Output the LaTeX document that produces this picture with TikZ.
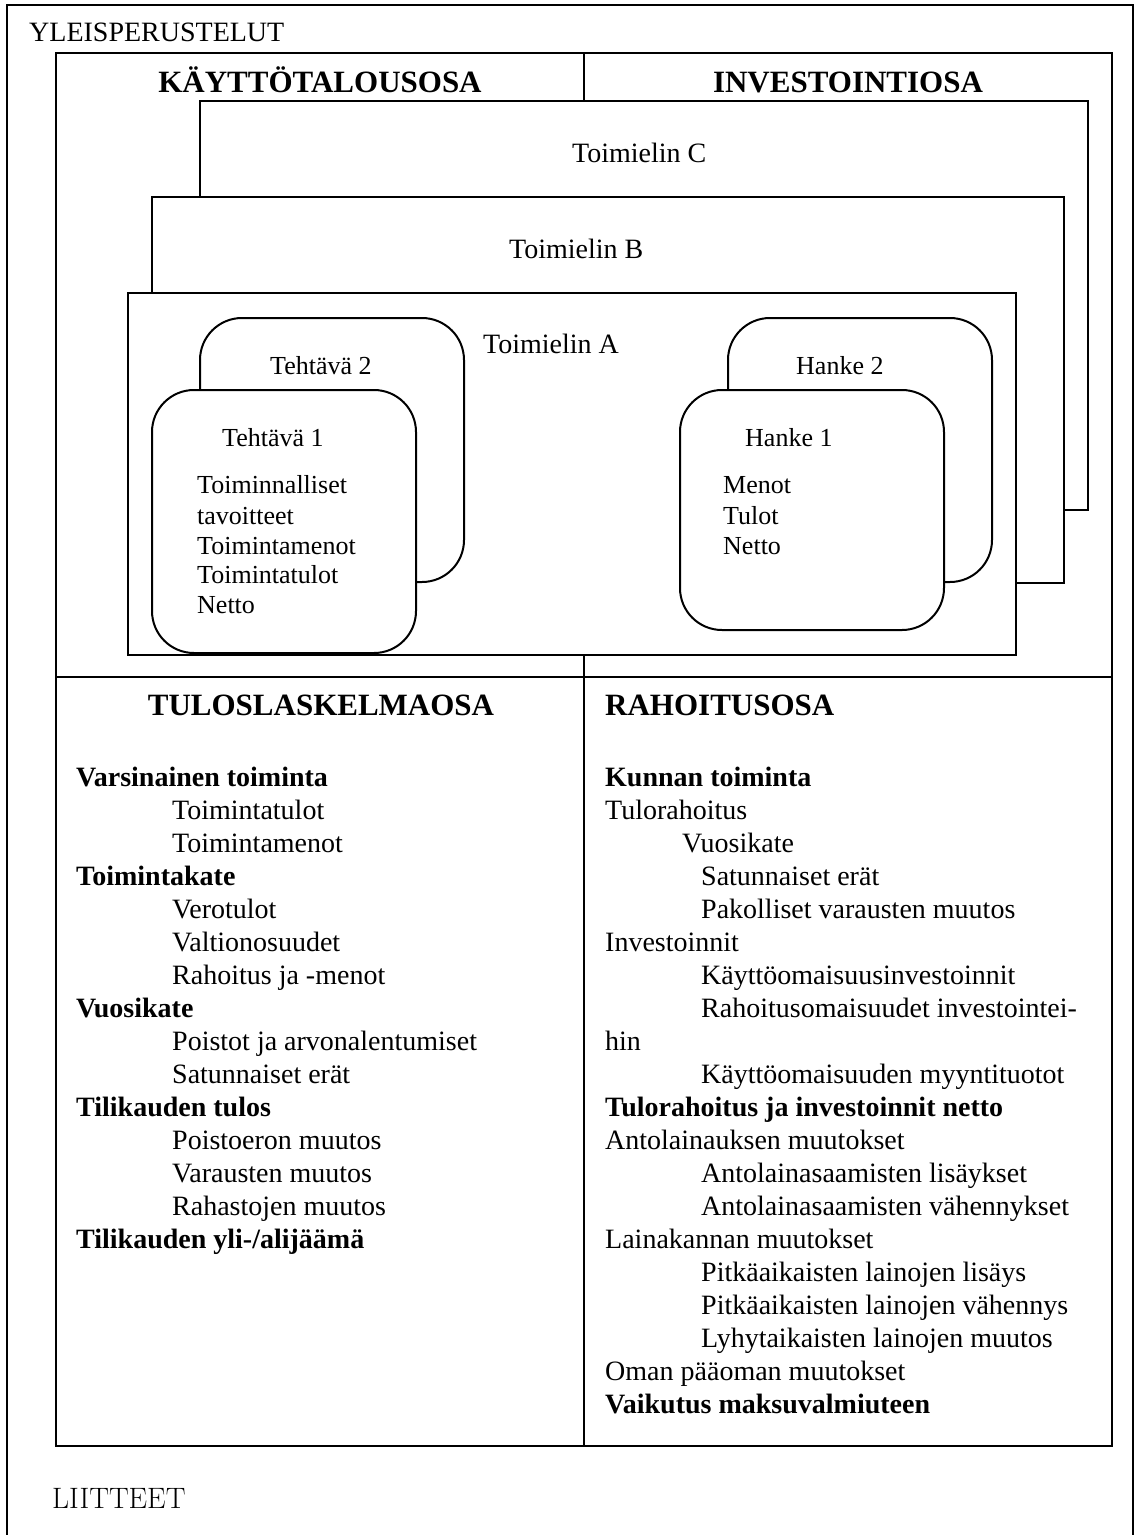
\documentclass[tikz,border=0pt]{standalone}
\usepackage{fontspec}
\newfontfamily\gar{Liberation Serif}
\begin{document}
\begin{tikzpicture}[x=1pt,y=-1pt,
  frame/.style={draw=black, line width=1.5pt},
  mainbox/.style={draw=black, line width=2pt},
  organ/.style={draw=black, fill=white, line width=2pt},
  task/.style={draw=black, fill=white, line width=2pt, rounded corners=42pt},
  lbl/.style={anchor=base west, inner sep=0pt, font=\gar\fontsize{28}{33}\selectfont},
  blbl/.style={anchor=base west, inner sep=0pt, font=\gar\fontsize{28}{33}\selectfont\bfseries},
  hd/.style={anchor=base, inner sep=0pt, font=\gar\fontsize{31}{36}\selectfont\bfseries},
  hdl/.style={anchor=base west, inner sep=0pt, font=\gar\fontsize{31}{36}\selectfont\bfseries},
  sm/.style={anchor=base west, inner sep=0pt, font=\gar\fontsize{26}{30}\selectfont},
]
\useasboundingbox (0,0) rectangle (1136,1535);
\fill[white] (0,0) rectangle (1136,1535);

% outer open frame
\draw[frame] (7,1540) -- (7,5) -- (1133,5) -- (1133,1540);

% main box and dividers
\draw[mainbox] (56,53) rectangle (1112,1446);
\draw[mainbox] (584,53) -- (584,1446);
\draw[mainbox] (56,677) -- (1112,677);

% toimielin boxes
\draw[organ] (200,101) rectangle (1088,510);
\draw[organ] (152,197) rectangle (1064,583);
\draw[organ] (128,293) rectangle (1016,655);

% task / project boxes
\draw[task] (200,318) rectangle (464,582);
\draw[task] (152,390) rectangle (416,653);
\draw[task] (728,318) rectangle (992,582);
\draw[task] (680,390) rectangle (944,630);

% top labels
\node[lbl] (yleis) at (29,41) {YLEISPERUSTELUT};
\node[hd] (kayt) at (320,92) {KÄYTTÖTALOUSOSA};
\node[hd] (inv) at (848,92) {INVESTOINTIOSA};
\node[lbl] (tC) at (572,162) {Toimielin C};
\node[lbl] (tB) at (509,258) {Toimielin B};
\node[lbl] (tA) at (483,353) {Toimielin A};

\node[sm] (teh2) at (270,374) {Tehtävä 2};
\node[sm] (teh1) at (222,446) {Tehtävä 1};
\node[sm] (t1a) at (197,493) {Toiminnalliset};
\node[sm] (t1b) at (197,524) {tavoitteet};
\node[sm] (t1c) at (197,554) {Toimintamenot};
\node[sm] (t1d) at (197,583) {Toimintatulot};
\node[sm] (t1e) at (197,613) {Netto};

\node[sm] (han2) at (796,374) {Hanke 2};
\node[sm] (han1) at (745,446) {Hanke 1};
\node[sm] (h1a) at (723,493) {Menot};
\node[sm] (h1b) at (723,524) {Tulot};
\node[sm] (h1c) at (723,554) {Netto};

% lower headings
\node[hd] (tulos) at (321,715) {TULOSLASKELMAOSA};
\node[hdl] (rah) at (605,715) {RAHOITUSOSA};

% left list
\node[blbl] (L0) at (76,786) {Varsinainen toiminta};
\node[lbl] (L1) at (172,819) {Toimintatulot};
\node[lbl] (L2) at (172,852) {Toimintamenot};
\node[blbl] (L3) at (76,885) {Toimintakate};
\node[lbl] (L4) at (172,918) {Verotulot};
\node[lbl] (L5) at (172,951) {Valtionosuudet};
\node[lbl] (L6) at (172,984) {Rahoitus ja -menot};
\node[blbl] (L7) at (76,1017) {Vuosikate};
\node[lbl] (L8) at (172,1050) {Poistot ja arvonalentumiset};
\node[lbl] (L9) at (172,1083) {Satunnaiset erät};
\node[blbl] (L10) at (76,1116) {Tilikauden tulos};
\node[lbl] (L11) at (172,1149) {Poistoeron muutos};
\node[lbl] (L12) at (172,1182) {Varausten muutos};
\node[lbl] (L13) at (172,1215) {Rahastojen muutos};
\node[blbl] (L14) at (76,1248) {Tilikauden yli-/alijäämä};

% right list
\node[blbl] (R0) at (605,786) {Kunnan toiminta};
\node[lbl] (R1) at (605,819) {Tulorahoitus};
\node[lbl] (R2) at (682,852) {Vuosikate};
\node[lbl] (R3) at (701,885) {Satunnaiset erät};
\node[lbl] (R4) at (701,918) {Pakolliset varausten muutos};
\node[lbl] (R5) at (605,951) {Investoinnit};
\node[lbl] (R6) at (701,984) {Käyttöomaisuusinvestoinnit};
\node[lbl] (R7) at (701,1017) {Rahoitusomaisuudet investointei-};
\node[lbl] (R8) at (605,1050) {hin};
\node[lbl] (R9) at (701,1083) {Käyttöomaisuuden myyntituotot};
\node[blbl] (R10) at (605,1116) {Tulorahoitus ja investoinnit netto};
\node[lbl] (R11) at (605,1149) {Antolainauksen muutokset};
\node[lbl] (R12) at (701,1182) {Antolainasaamisten lisäykset};
\node[lbl] (R13) at (701,1215) {Antolainasaamisten vähennykset};
\node[lbl] (R14) at (605,1248) {Lainakannan muutokset};
\node[lbl] (R15) at (701,1281) {Pitkäaikaisten lainojen lisäys};
\node[lbl] (R16) at (701,1314) {Pitkäaikaisten lainojen vähennys};
\node[lbl] (R17) at (701,1347) {Lyhytaikaisten lainojen muutos};
\node[lbl] (R18) at (605,1380) {Oman pääoman muutokset};
\node[blbl] (R19) at (605,1413) {Vaikutus maksuvalmiuteen};

% bottom label
\node[anchor=base west, inner sep=0pt, font=\fontsize{29.5}{34}\selectfont] (liit) at (52,1508) {LIITTEET};
\end{tikzpicture}
\end{document}
